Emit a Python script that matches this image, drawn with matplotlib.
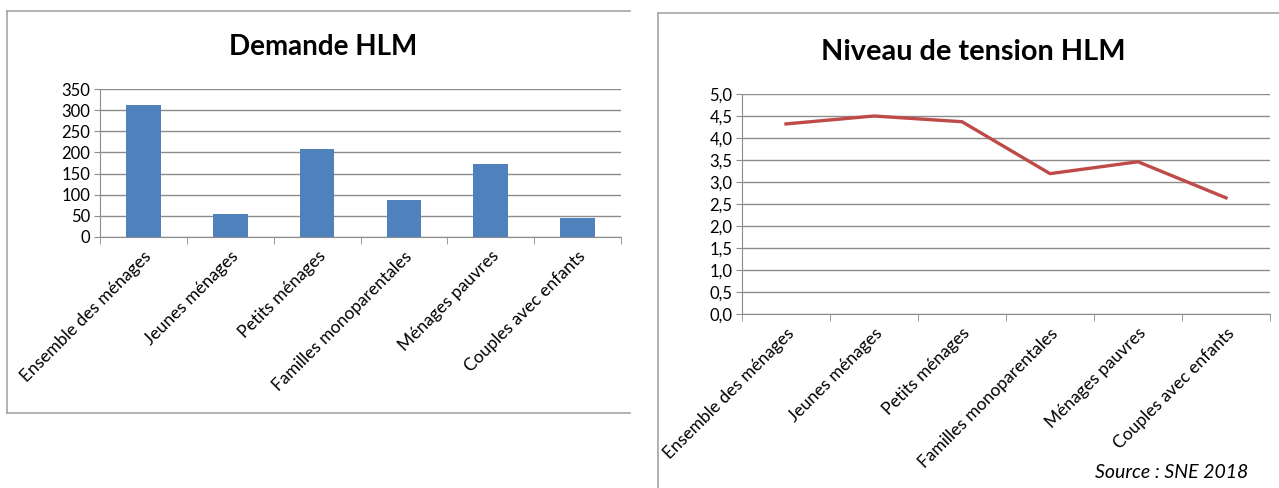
import matplotlib
matplotlib.use("Agg")
import matplotlib.pyplot as plt
from matplotlib.lines import Line2D
import numpy as np

plt.rcParams['font.family'] = ['Lato', 'DejaVu Sans']

categories = ["Ensemble des ménages", "Jeunes ménages", "Petits ménages",
              "Familles monoparentales", "Ménages pauvres", "Couples avec enfants"]
demande = [311, 54, 209, 88, 173, 46]
tension = [4.32, 4.50, 4.37, 3.19, 3.46, 2.64]
demande_ticks = [0, 50, 100, 150, 200, 250, 300, 350]
tension_ticks = [0.0, 0.5, 1.0, 1.5, 2.0, 2.5, 3.0, 3.5, 4.0, 4.5, 5.0]

W, H = 1279, 488
fig = plt.figure(figsize=(W / 100, H / 100), dpi=100)

def fx(px):
    return px / W

def fy(py):
    return 1 - py / H

frame_col = '#a6a6a6'
# Left frame
fig.add_artist(Line2D([fx(7), fx(630)], [fy(11), fy(11)], color=frame_col, lw=1.2))
fig.add_artist(Line2D([fx(7), fx(7)], [fy(11), fy(413)], color=frame_col, lw=1.2))
fig.add_artist(Line2D([fx(7), fx(630)], [fy(413), fy(413)], color=frame_col, lw=1.2))
# Right frame
fig.add_artist(Line2D([fx(658), fx(1279)], [fy(13), fy(13)], color=frame_col, lw=1.2))
fig.add_artist(Line2D([fx(658), fx(658)], [fy(13), fy(488)], color=frame_col, lw=1.2))

grid_col = '#8c8c8c'
axis_col = '#8c8c8c'
x = np.arange(len(categories))


def style_axes(ax):
    for s in ['top', 'right']:
        ax.spines[s].set_visible(False)
    ax.spines['left'].set_color(axis_col)
    ax.spines['bottom'].set_color(axis_col)
    ax.yaxis.grid(True, color=grid_col, lw=1.0)
    ax.set_axisbelow(True)
    ax.set_xlim(-0.5, len(categories) - 0.5)
    ax.set_xticks(x)
    ax.set_xticklabels(categories, rotation=45, ha='right', rotation_mode='anchor', fontsize=12.5)
    ax.tick_params(axis='x', which='major', length=0, pad=8)
    ax.set_xticks(np.arange(-0.5, len(categories), 1.0), minor=True)
    ax.tick_params(axis='x', which='minor', length=5, color=axis_col, direction='out')
    ax.tick_params(axis='y', length=4, color=axis_col, labelsize=12, pad=3)


# Left: bar chart
ax1 = fig.add_axes([fx(100), fy(237), fx(521), (237 - 89) / H])
ax1.bar(x, demande, width=0.4, color='#4F81BD', zorder=3)
ax1.set_ylim(0, 350)
ax1.set_yticks(demande_ticks)
style_axes(ax1)
fig.text(fx(323), fy(47), "Demande HLM", ha='center', va='center', fontsize=20, fontweight='bold')

# Right: line chart
ax2 = fig.add_axes([fx(742), fy(314), fx(528), (314 - 94) / H])
ax2.plot(x, tension, color='#BE4B48', lw=2.4, zorder=3)
ax2.set_ylim(0, 5)
ax2.set_yticks(tension_ticks)
ax2.set_yticklabels([f"{t:.1f}".replace('.', ',') for t in tension_ticks])
style_axes(ax2)
fig.text(fx(973), fy(52), "Niveau de tension HLM", ha='center', va='center', fontsize=20.8, fontweight='bold')

fig.text(fx(1248), fy(473), "Source : SNE 2018", ha='right', va='center', fontsize=14, style='italic')

fig.savefig('out.png', dpi=100)
